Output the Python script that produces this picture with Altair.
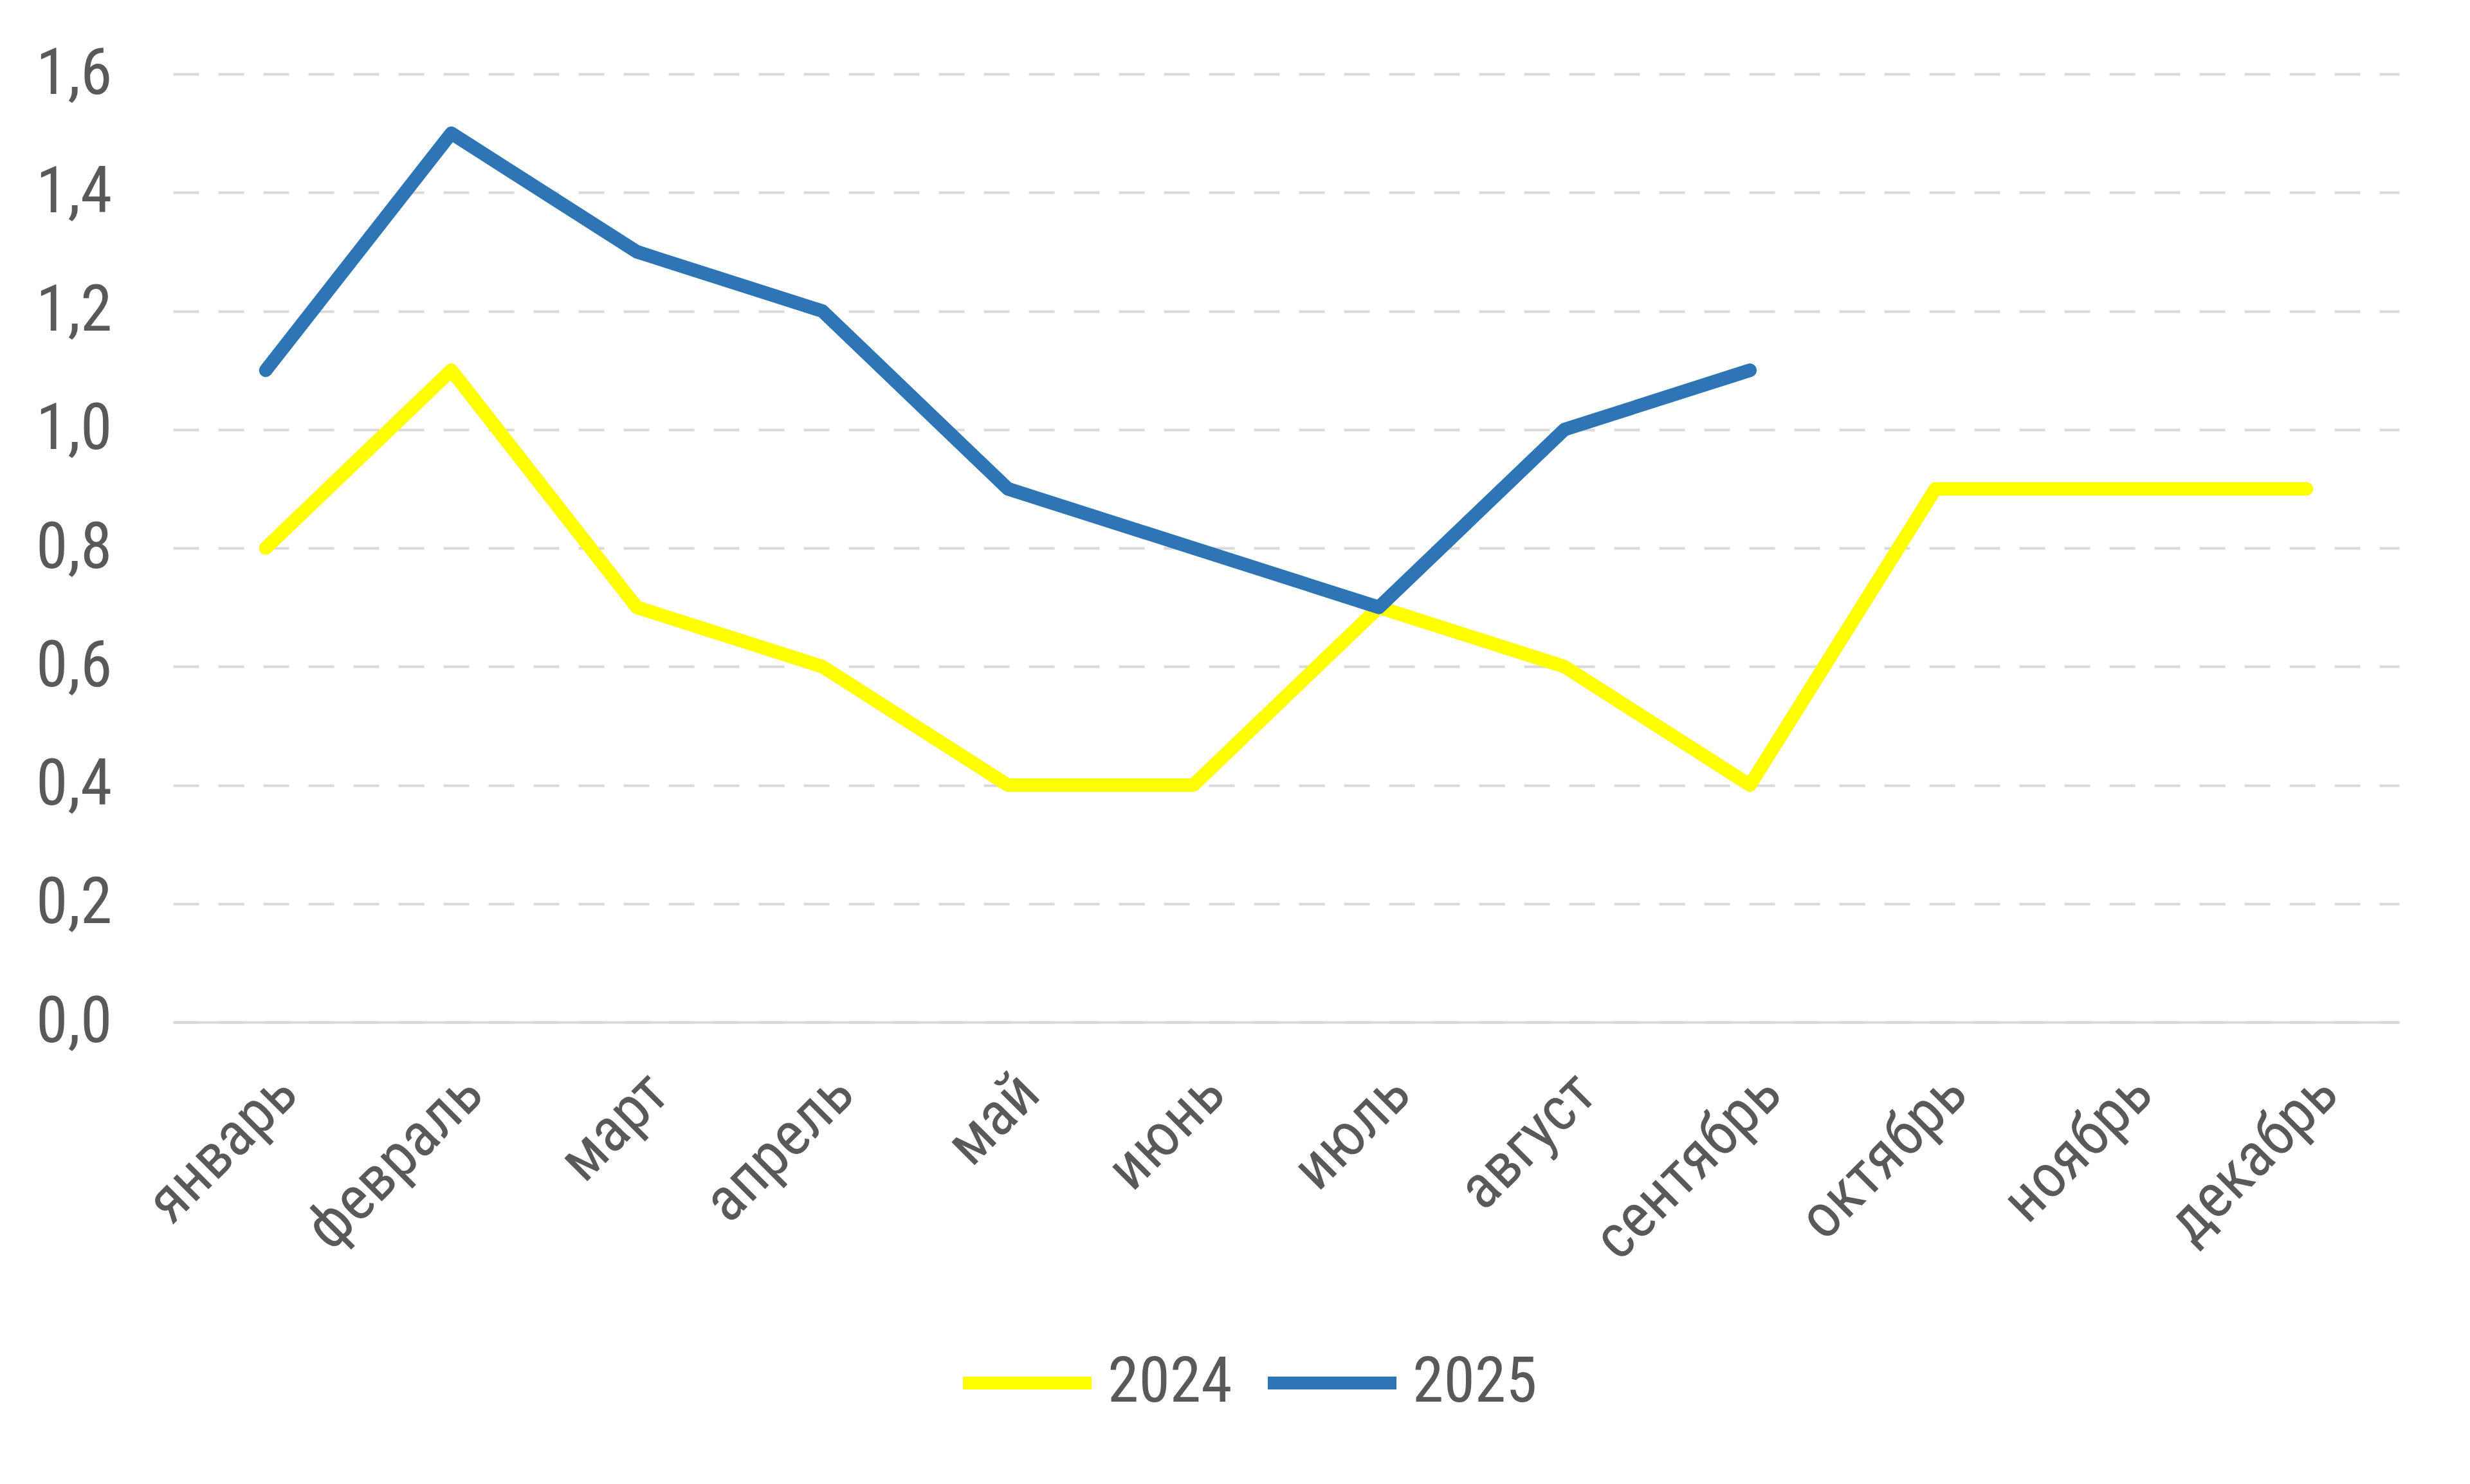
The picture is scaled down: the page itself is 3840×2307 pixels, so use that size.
import altair as alt
import pandas as pd

months = ["январь", "февраль", "март", "апрель", "май", "июнь", "июль",
          "август", "сентябрь", "октябрь", "ноябрь", "декабрь"]
v2024 = [0.8, 1.1, 0.7, 0.6, 0.4, 0.4, 0.7, 0.6, 0.4, 0.9, 0.9, 0.9]
v2025 = [1.1, 1.5, 1.3, 1.2, 0.9, 0.8, 0.7, 1.0, 1.1]
series = ["2024", "2025"]
colors = ["#FFFF00", "#2E75B6"]
yticks = [0.0, 0.2, 0.4, 0.6, 0.8, 1.0, 1.2, 1.4, 1.6]

rows = []
for m, v in zip(months, v2024):
    rows.append({"month": m, "value": v, "year": "2024"})
for m, v in zip(months, v2025):
    rows.append({"month": m, "value": v, "year": "2025"})
df = pd.DataFrame(rows)

FONT = "Roboto Condensed, Liberation Sans Narrow, DejaVu Sans Condensed, sans-serif"
TXT = "#595959"

chart = alt.Chart(df).mark_line(strokeWidth=21, strokeCap="round", strokeJoin="round").encode(
    x=alt.X("month:N", sort=months,
            scale=alt.Scale(type="point", padding=0.5),
            axis=alt.Axis(title=None, labelAngle=-45, ticks=False, grid=False,
                          domain=True, domainColor="#d9d9d9", domainWidth=4,
                          labelPadding=62, labelFontSize=96, labelFont=FONT,
                          labelColor=TXT, labelLimit=0)),
    y=alt.Y("value:Q", scale=alt.Scale(domain=[0, 1.6], nice=False),
            axis=alt.Axis(title=None, values=yticks, ticks=False, domain=False,
                          grid=True, gridColor="#d9d9d9", gridWidth=4,
                          gridDash=[40, 30],
                          labelExpr="replace(format(datum.value, '.1f'), '.', ',')",
                          labelPadding=95, labelFontSize=100, labelFont=FONT,
                          labelColor=TXT)),
    color=alt.Color("year:N", scale=alt.Scale(domain=series, range=colors),
                    legend=alt.Legend(title=None, orient="none", direction="horizontal",
                                      legendX=1218, legendY=1925,
                                      symbolType="stroke", symbolSize=40000,
                                      symbolStrokeWidth=20, labelFontSize=98,
                                      labelFont=FONT, labelColor=TXT, labelLimit=0,
                                      labelOffset=15, columnPadding=15)),
).properties(
    width=3461, height=1474,
    background="white",
    autosize=alt.AutoSizeParams(type="none"),
    padding={"left": 261, "top": 107, "right": 100, "bottom": 690},
).configure_view(strokeWidth=0, stroke="transparent")

chart.save("out.html", embed_options={"renderer": "svg", "actions": False})
